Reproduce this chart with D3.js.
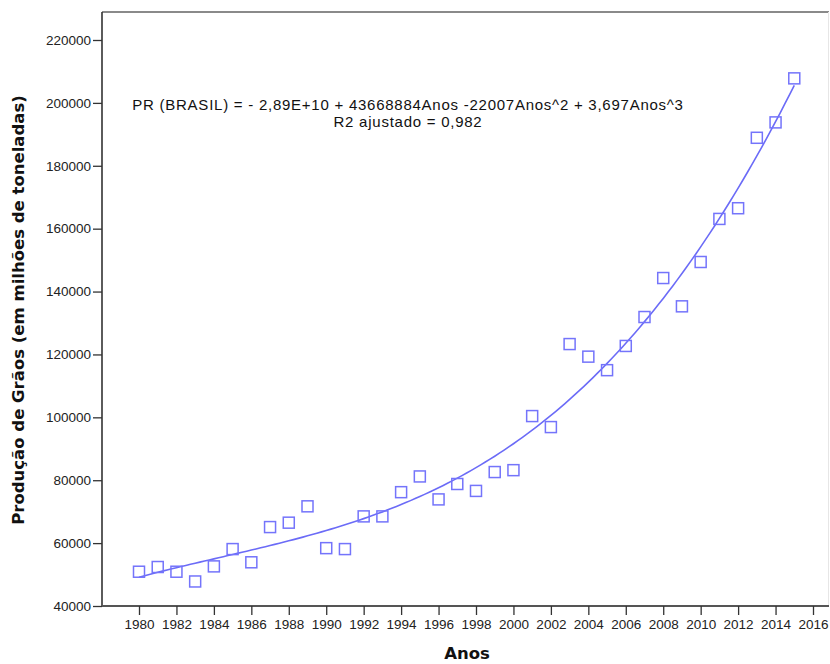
<!DOCTYPE html>
<html>
<head>
<meta charset="utf-8">
<script src="https://cdn.jsdelivr.net/npm/d3@7"></script>
<style>
  body { margin: 0; background: #fff; }
  .tick text { font-family: "Liberation Sans", Arial, sans-serif; font-size: 13.5px; fill: #222; }
  .axisTitle { font-family: "DejaVu Sans", sans-serif; font-weight: bold; font-size: 16.5px; fill: #111; }
  .eq { font-family: "Liberation Sans", Arial, sans-serif; font-size: 15px; letter-spacing: 0.75px; fill: #111; }
</style>
</head>
<body>
<div class="chart"></div>
<script>
const width = 830;
const height = 664;
const margin = { top: 12, right: 1, bottom: 58, left: 102 };

// grain production by year
const years = [1980, 1981, 1982, 1983, 1984, 1985, 1986, 1987, 1988, 1989,
    1990, 1991, 1992, 1993, 1994, 1995, 1996, 1997, 1998, 1999,
    2000, 2001, 2002, 2003, 2004, 2005, 2006, 2007, 2008, 2009,
    2010, 2011, 2012, 2013, 2014, 2015];
const production = [50900, 52400, 50900, 47800, 52600, 58100, 53900, 65100, 66500, 71700,
    58400, 58100, 68500, 68500, 76200, 81200, 73900, 78800, 76600, 82600,
    83200, 100400, 96900, 123300, 119300, 115000, 122700, 131900, 144300, 135300,
    149400, 163100, 166500, 188900, 193800, 207800];
const xTicks = d3.range(1980, 2017, 2);
const yTicks = [40000, 60000, 80000, 100000, 120000, 140000, 160000, 180000, 200000, 220000];
const eqLine1 = 'PR (BRASIL) = - 2,89E+10 + 43668884Anos -22007Anos^2 + 3,697Anos^3';
const eqLine2 = 'R2 ajustado = 0,982';

const svg = d3.select('.chart').append('svg')
    .attr('width', width)
    .attr('height', height);

// scales: 1980 -> x 139, 2016 -> x 813 ; 40000 -> y 606, 220000 -> y 40
const xScale = d3.scaleLinear().domain([1980, 2016]).range([139, 813]);
const yScale = d3.scaleLinear().domain([40000, 220000]).range([606, 40]);

const plotLeft = margin.left;
const plotRight = width - margin.right;
const plotTop = margin.top;
const plotBottom = height - margin.bottom;

/*      frame      */
svg.append('line')
    .attr('x1', plotLeft).attr('x2', plotRight)
    .attr('y1', plotTop).attr('y2', plotTop)
    .attr('stroke', '#8a8a8a').attr('stroke-width', 2);
svg.append('line')
    .attr('x1', plotRight - 0.5).attr('x2', plotRight - 0.5)
    .attr('y1', plotTop).attr('y2', plotBottom)
    .attr('stroke', '#e6e6e6').attr('stroke-width', 1);

/*      y-axis       */
const yAxis = svg.append('g')
    .attr('transform', `translate(${plotLeft},0)`)
    .call(d3.axisLeft(yScale).tickValues(yTicks).tickFormat(d3.format('d')).tickSize(9).tickPadding(2));
yAxis.select('.domain').attr('d', `M0,${plotTop}V${plotBottom}`).attr('stroke', '#333').attr('stroke-width', 1.6);
yAxis.selectAll('.tick line').attr('stroke', '#333').attr('stroke-width', 1.3);

/*      x-axis       */
const xAxis = svg.append('g')
    .attr('transform', `translate(0,${plotBottom})`)
    .call(d3.axisBottom(xScale).tickValues(xTicks).tickFormat(d3.format('d')).tickSize(9).tickPadding(4));
xAxis.select('.domain').attr('d', `M${plotLeft},0H${plotRight}`).attr('stroke', '#555').attr('stroke-width', 2);
xAxis.selectAll('.tick line').attr('stroke', '#333').attr('stroke-width', 1.3);

/*      axis titles       */
svg.append('text')
    .attr('class', 'axisTitle')
    .attr('text-anchor', 'middle')
    .attr('x', 467).attr('y', 659)
    .text('Anos');
svg.append('text')
    .attr('class', 'axisTitle')
    .attr('text-anchor', 'middle')
    .attr('transform', 'translate(24,310) rotate(-90)')
    .text('Produção de Grãos (em milhões de toneladas)');

/*      cubic fit (least squares on the points)      */
const x0 = d3.mean(years);
function cubicFit(xs, ys) {
    const n = 4;
    const A = d3.range(n).map(() => new Array(n + 1).fill(0));
    xs.forEach((xv, k) => {
        const t = (xv - x0) / 10;
        const p = [1, t, t * t, t * t * t];
        for (let i = 0; i < n; i++) {
            for (let j = 0; j < n; j++) A[i][j] += p[i] * p[j];
            A[i][n] += p[i] * ys[k];
        }
    });
    for (let i = 0; i < n; i++) {
        let m = i;
        for (let r = i + 1; r < n; r++) if (Math.abs(A[r][i]) > Math.abs(A[m][i])) m = r;
        [A[i], A[m]] = [A[m], A[i]];
        for (let r = 0; r < n; r++) {
            if (r === i) continue;
            const f = A[r][i] / A[i][i];
            for (let c = i; c <= n; c++) A[r][c] -= f * A[i][c];
        }
    }
    return A.map((row, i) => row[n] / row[i]);
}
const coef = cubicFit(years, production);
const fit = (xv) => {
    const t = (xv - x0) / 10;
    return coef[0] + coef[1] * t + coef[2] * t * t + coef[3] * t * t * t;
};
const curveX = d3.range(years[0], years[years.length - 1] + 0.001, 0.25);

svg.append('path')
    .datum(curveX)
    .attr('fill', 'none')
    .attr('stroke', '#6b6bf7')
    .attr('stroke-width', 1.6)
    .attr('d', d3.line().x(d => xScale(d)).y(d => yScale(fit(d))));

/*      markers       */
const size = 11;
svg.append('g').selectAll('rect')
    .data(years.map((y, i) => ({ year: y, value: production[i] })))
    .enter()
    .append('rect')
    .attr('x', d => xScale(d.year) - size / 2)
    .attr('y', d => yScale(d.value) - size / 2)
    .attr('width', size)
    .attr('height', size)
    .attr('fill', 'none')
    .attr('stroke', '#7474fb')
    .attr('stroke-width', 1.5);

/*      equation       */
svg.append('text')
    .attr('class', 'eq')
    .attr('text-anchor', 'middle')
    .attr('x', 408).attr('y', 110)
    .text(eqLine1);
svg.append('text')
    .attr('class', 'eq')
    .attr('text-anchor', 'middle')
    .attr('x', 408).attr('y', 127)
    .text(eqLine2);
</script>
</body>
</html>
